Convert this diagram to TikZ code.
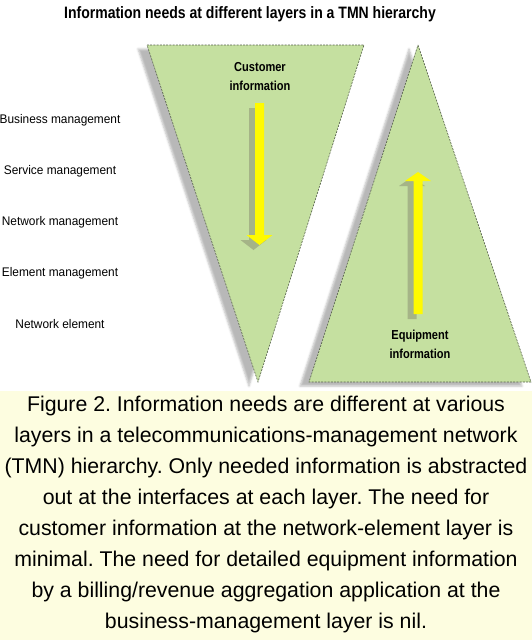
\documentclass[tikz,border=0pt]{standalone}
\usepackage{fontspec}
\setmainfont{Liberation Sans}
\newfontfamily\condfont[FakeStretch=0.85]{Liberation Sans}
\newfontfamily\labfont[FakeStretch=0.95]{Liberation Sans}
\usetikzlibrary{positioning, shadows.blur}
\definecolor{triclr} {RGB}{197,224,160}
\definecolor{edgeclr}{RGB}{85,95,75}
\definecolor{arrclr} {RGB}{255,250,0}
\definecolor{arrshd} {RGB}{165,180,135}
\definecolor{capclr} {RGB}{253,253,224}

\begin{document}
\frenchspacing
\begin{tikzpicture}[
    x=1pt, y=-1pt,
    tri/.style   ={fill=triclr, draw=edgeclr, line width=0.6pt,
                   dash pattern=on 2pt off 1.2pt,
                   blur shadow={shadow xshift=-9pt, shadow yshift=-4pt,
                                shadow opacity=28}},
    layer/.style ={font=\labfont\fontsize{12.5}{14}\selectfont, inner sep=0pt},
    tag/.style   ={font=\condfont\bfseries\fontsize{13}{19}\selectfont,
                   align=center, inner sep=0pt},
    ttl/.style   ={font=\condfont\bfseries\fontsize{16.5}{18}\selectfont, inner sep=0pt},
    capbox/.style={font=\fontsize{21.3}{31}\selectfont, align=center, inner sep=0pt},
]
\useasboundingbox (0,0) rectangle (532,640);

% =============== Caption panel ===============
\fill[capclr] (0,391) rectangle (532,640);

% =============== Title ===============
\node[ttl] (title) at (250,14) {Information needs at different layers in a TMN hierarchy};

% =============== Triangles ===============
\path[tri] (147,45) -- (364,45) -- (258,382) -- cycle;
\path[tri] (418,45) -- (531,382) -- (309,382) -- cycle;

% =============== Block arrows (shadow, then yellow) ===============
\foreach \dx/\dy/\clr in {-6/5/arrshd, 0/0/arrclr}{%
  \fill[\clr, shift={(\dx,\dy)}] (255,103) -- (264,103) -- (264,235) -- (272.5,235)
      -- (259.5,245) -- (246.5,235) -- (255,235) -- cycle;
  \fill[\clr, shift={(\dx,\dy)}] (413.5,314) -- (422.5,314) -- (422.5,181) -- (431,181)
      -- (418,172) -- (405,181) -- (413.5,181) -- cycle;
}

% =============== Triangle labels ===============
\node[tag] (cust)  at (260,77)    {Customer\\information};
\node[tag] (equip) at (420,344.5) {Equipment\\information};

% =============== Layer names ===============
\foreach \y/\nm/\txt in {120/lyBiz/Business management,
                         171/lySrv/Service management,
                         222/lyNet/Network management,
                         273/lyElm/Element management,
                         324/lyNe/Network element}{%
  \node[layer] (\nm) at (60,\y) {\txt};
}

% =============== Caption ===============
\node[capbox] (caption) at (266,514.5)
  {Figure 2. Information needs are different at various\\
   layers in a telecommunications-management network\\
   (TMN) hierarchy. Only needed information is abstracted\\
   out at the interfaces at each layer. The need for\\
   customer information at the network-element layer is\\
   minimal. The need for detailed equipment information\\
   by a billing/revenue aggregation application at the\\
   business-management layer is nil.};

\end{tikzpicture}
\end{document}
